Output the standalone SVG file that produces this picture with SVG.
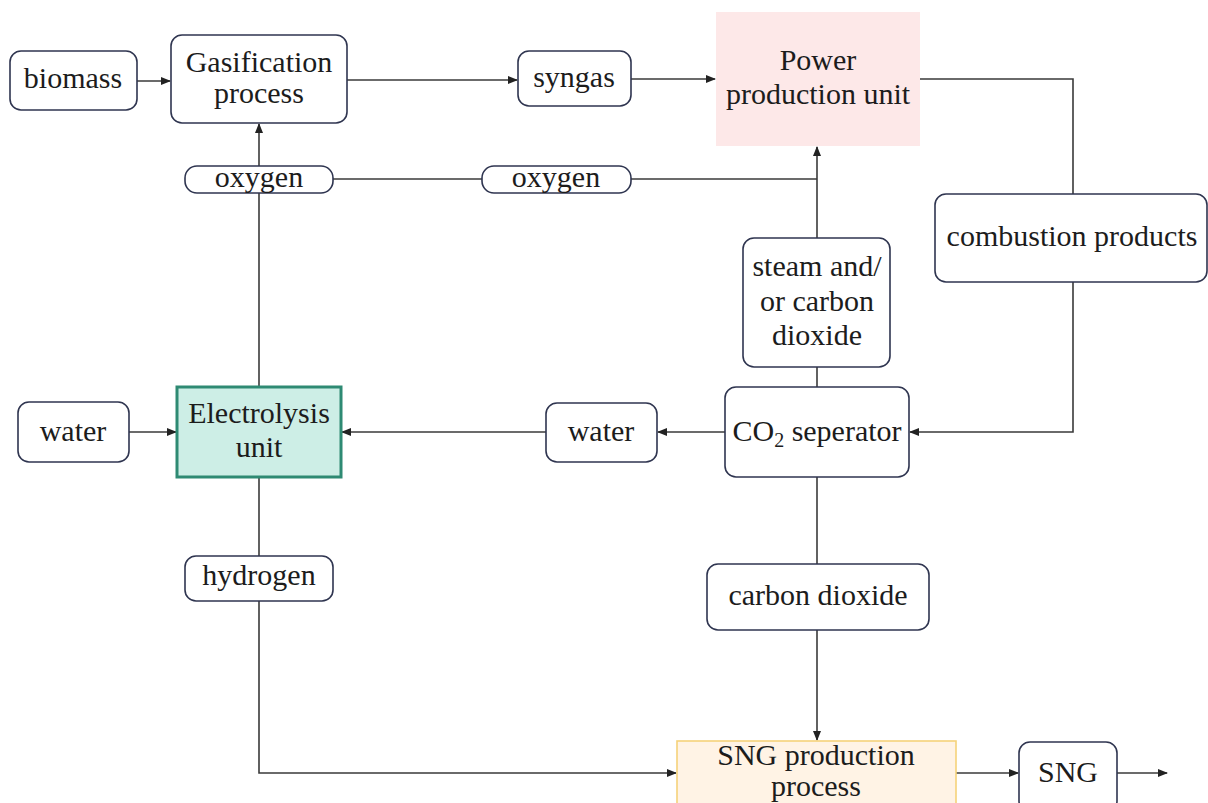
<svg xmlns="http://www.w3.org/2000/svg" width="1208" height="803" viewBox="0 0 1208 803">
<defs>
<marker id="ah" markerWidth="10" markerHeight="8" refX="9" refY="4" orient="auto" markerUnits="userSpaceOnUse">
<path d="M0,0 L10,4 L0,8 Z" fill="#222"/>
</marker>
<style>
.box{fill:#fff;stroke:#2f3550;stroke-width:1.6}
.t{font-size:30px;fill:#1c1c1c;text-anchor:middle}
.c{fill:none;stroke:#3a3a3a;stroke-width:1.6}
.a{marker-end:url(#ah)}
</style>
</defs>
<rect width="1208" height="803" fill="#fff"/>
<g id="connectors">
<path class="c a" d="M137,81 H170"/>
<path class="c a" d="M347,80 H517"/>
<path class="c a" d="M631,79 H715"/>
<path class="c" d="M920,79 H1073 V194"/>
<path class="c a" d="M1073,282 V432 H910"/>
<path class="c a" d="M725,432 H658"/>
<path class="c a" d="M546,432 H342"/>
<path class="c a" d="M129,432 H176"/>
<path class="c a" d="M259,387 V124"/>
<path class="c" d="M333,179 H482"/>
<path class="c" d="M631,179 H817"/>
<path class="c a" d="M817,238 V147"/>
<path class="c" d="M817,387 V367"/>
<path class="c" d="M817,477 V564"/>
<path class="c a" d="M817,630 V740"/>
<path class="c" d="M259,477 V556"/>
<path class="c a" d="M259,601 V773 H676"/>
<path class="c a" d="M956,773 H1018"/>
<path class="c a" d="M1117,773 H1167"/>
</g>
<g font-family="'Liberation Serif', 'Times New Roman', Times, serif">
<g id="biomass"><rect class="box" x="10" y="51" width="127" height="59" rx="11"/><text class="t" x="73" y="88">biomass</text></g>
<g id="gasification"><rect class="box" x="171" y="35" width="176" height="88" rx="11"/><text class="t" x="259" y="72">Gasification</text><text class="t" x="259" y="103">process</text></g>
<g id="syngas"><rect class="box" x="518" y="51" width="113" height="55" rx="11"/><text class="t" x="574" y="87">syngas</text></g>
<g id="power"><rect x="716" y="12" width="204" height="134" fill="#fde8e8"/><text class="t" x="818" y="70">Power</text><text class="t" x="818" y="104">production unit</text></g>
<g id="oxygen1"><rect class="box" x="185" y="166" width="148" height="27" rx="12"/><text class="t" x="259" y="187">oxygen</text></g>
<g id="oxygen2"><rect class="box" x="482" y="166" width="149" height="27" rx="12"/><text class="t" x="556" y="187">oxygen</text></g>
<g id="combustion"><rect class="box" x="935" y="194" width="272" height="88" rx="11"/><text class="t" x="1072" y="246">combustion products</text></g>
<g id="steam"><rect class="box" x="743" y="238" width="147" height="129" rx="11"/><text class="t" x="817" y="276">steam and/</text><text class="t" x="817" y="311">or carbon</text><text class="t" x="817" y="345">dioxide</text></g>
<g id="co2sep"><rect class="box" x="725" y="387" width="184" height="90" rx="11"/><text class="t" x="817" y="441">CO<tspan font-size="20" dy="6">2</tspan><tspan dy="-6"> seperator</tspan></text></g>
<g id="water2"><rect class="box" x="546" y="403" width="111" height="59" rx="11"/><text class="t" x="601" y="441">water</text></g>
<g id="electrolysis"><rect x="177" y="387" width="164" height="90" fill="#cdeee6" stroke="#2e8a73" stroke-width="3"/><text class="t" x="259" y="423">Electrolysis</text><text class="t" x="259" y="457">unit</text></g>
<g id="water1"><rect class="box" x="18" y="402" width="111" height="60" rx="11"/><text class="t" x="73" y="441">water</text></g>
<g id="hydrogen"><rect class="box" x="185" y="556" width="148" height="45" rx="11"/><text class="t" x="259" y="585">hydrogen</text></g>
<g id="carbondioxide"><rect class="box" x="707" y="564" width="222" height="66" rx="11"/><text class="t" x="818" y="605">carbon dioxide</text></g>
<g id="sngprocess"><rect x="677" y="741" width="279" height="70" fill="#fff3e5" stroke="#f5d27a" stroke-width="1.6"/><text class="t" x="816" y="765">SNG production</text><text class="t" x="816" y="796">process</text></g>
<g id="sng"><rect class="box" x="1019" y="742" width="98" height="70" rx="11"/><text class="t" x="1068" y="782">SNG</text></g>
</g>
</svg>
